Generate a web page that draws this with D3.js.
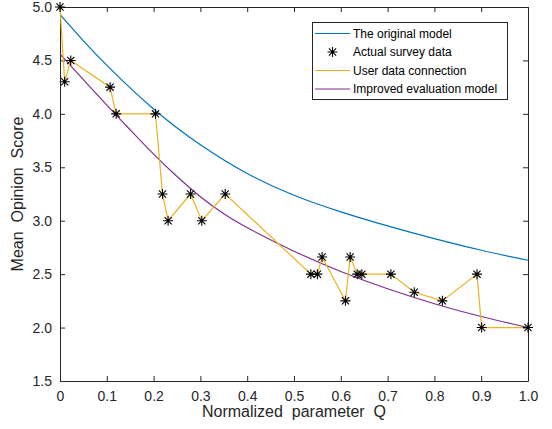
<!DOCTYPE html>
<html><head><meta charset="utf-8">
<script src="https://cdn.jsdelivr.net/npm/d3@7"></script>
<style>body{margin:0;background:#fff}svg{display:block}text{font-family:"Liberation Sans",Arial,sans-serif}</style>
</head><body>
<svg id="c" width="552" height="429"></svg>
<script>
// Survey data
const surveyQ = [0, 0.010, 0.023, 0.107, 0.120, 0.204, 0.219, 0.231, 0.279, 0.303, 0.353, 0.536, 0.550, 0.560, 0.610, 0.620, 0.635, 0.645, 0.707, 0.757, 0.817, 0.891, 0.901, 1.0];
const surveyMOS = [5.0, 4.3, 4.5, 4.25, 4.0, 4.0, 3.25, 3.0, 3.25, 3.0, 3.25, 2.5, 2.5, 2.66, 2.25, 2.66, 2.5, 2.5, 2.5, 2.33, 2.25, 2.5, 2.0, 2.0];
// Original model curve
const origQ = [0, 0.05, 0.1, 0.2, 0.3, 0.4, 0.5, 0.6, 0.7, 0.8, 0.9, 1.0];
const origMOS = [4.93, 4.68, 4.45, 4.03, 3.70, 3.43, 3.23, 3.08, 2.95, 2.83, 2.72, 2.63];
// Improved evaluation model curve
const impQ = [0, 0.05, 0.1, 0.15, 0.2, 0.25, 0.3, 0.35, 0.4, 0.5, 0.6, 0.7, 0.8, 0.9, 1.0];
const impMOS = [4.56, 4.32, 4.08, 3.85, 3.62, 3.41, 3.22, 3.06, 2.93, 2.71, 2.52, 2.36, 2.22, 2.10, 2.0];
// Ticks
const xTicks = [0, 0.1, 0.2, 0.3, 0.4, 0.5, 0.6, 0.7, 0.8, 0.9, 1.0];
const xTickLabels = ["0", "0.1", "0.2", "0.3", "0.4", "0.5", "0.6", "0.7", "0.8", "0.9", "1.0"];
const yTicks = [1.5, 2.0, 2.5, 3.0, 3.5, 4.0, 4.5, 5.0];
const yTickLabels = ["1.5", "2.0", "2.5", "3.0", "3.5", "4.0", "4.5", "5.0"];
const legendLabels = ["The original model", "Actual survey data", "User data connection", "Improved evaluation model"];

const C_BLUE = "#0072BD", C_ORANGE = "#EDB120", C_PURPLE = "#7E2F8E", C_AX = "#262626";
const L = 60, R = 528, T = 7, B = 381;
const svg = d3.select("#c");
const x = d3.scaleLinear().domain([0, 1]).range([L, R]);
const y = d3.scaleLinear().domain([1.5, 5.0]).range([B, T]);

const zip = (a, b) => a.map((v, i) => [v, b[i]]);
const line = d3.line().x(d => x(d[0])).y(d => y(d[1]));
const smooth = d3.line().x(d => x(d[0])).y(d => y(d[1])).curve(d3.curveBasis);

// axes with inward ticks
const tl = 5;
const axB = svg.append("g").attr("transform", `translate(0,${B})`)
  .call(d3.axisBottom(x).tickValues(xTicks).tickFormat((d, i) => xTickLabels[i]).tickSizeInner(-tl).tickSizeOuter(0).tickPadding(10));
const axT = svg.append("g").attr("transform", `translate(0,${T})`)
  .call(d3.axisTop(x).tickValues(xTicks).tickFormat("").tickSizeInner(-tl).tickSizeOuter(0));
const axL = svg.append("g").attr("transform", `translate(${L},0)`)
  .call(d3.axisLeft(y).tickValues(yTicks).tickFormat((d, i) => yTickLabels[i]).tickSizeInner(-tl).tickSizeOuter(0).tickPadding(8));
const axR = svg.append("g").attr("transform", `translate(${R},0)`)
  .call(d3.axisRight(y).tickValues(yTicks).tickFormat("").tickSizeInner(-tl).tickSizeOuter(0));
[axB, axT, axL, axR].forEach(g => {
  g.selectAll("path").attr("stroke", C_AX).attr("stroke-width", 1);
  g.selectAll("line").attr("stroke", C_AX);
  g.selectAll("text").attr("fill", C_AX).style("font-size", "14px").style("font-family", '"Liberation Sans",Arial,sans-serif');
});

// curves
svg.append("path").datum(zip(origQ, origMOS)).attr("d", smooth).attr("fill", "none").attr("stroke", C_BLUE).attr("stroke-width", 1.2);
svg.append("path").datum(zip(impQ, impMOS)).attr("d", smooth).attr("fill", "none").attr("stroke", C_PURPLE).attr("stroke-width", 1.2);
svg.append("path").datum(zip(surveyQ, surveyMOS)).attr("d", line).attr("fill", "none").attr("stroke", C_ORANGE).attr("stroke-width", 1.2);

function star(g, cx, cy) {
  const r = 5, d = 3.6;
  const p = `M${cx - r},${cy}L${cx + r},${cy}M${cx},${cy - r}L${cx},${cy + r}M${cx - d},${cy - d}L${cx + d},${cy + d}M${cx - d},${cy + d}L${cx + d},${cy - d}`;
  g.append("path").attr("d", p).attr("stroke", "#000").attr("stroke-width", 1.1).attr("fill", "none");
}
const sg = svg.append("g");
zip(surveyQ, surveyMOS).forEach(d => star(sg, x(d[0]), y(d[1])));

// labels
svg.append("text").attr("x", (L + R) / 2).attr("y", 417).attr("text-anchor", "middle")
  .style("font-size", "16px").style("white-space", "pre").attr("fill", C_AX).text("Normalized  parameter  Q");
svg.append("text").attr("transform", `translate(23,${(T + B) / 2}) rotate(-90)`).attr("text-anchor", "middle")
  .style("font-size", "16px").style("white-space", "pre").attr("fill", C_AX).text("Mean  Opinion  Score");

// legend
const lg = svg.append("g");
lg.append("rect").attr("x", 312.5).attr("y", 22.5).attr("width", 195).attr("height", 77).attr("fill", "#fff").attr("stroke", C_AX).attr("stroke-width", 1);
const rows = [33.5, 52, 70.5, 89];
const cols = [C_BLUE, null, C_ORANGE, C_PURPLE];
legendLabels.forEach((t, i) => {
  if (cols[i]) lg.append("line").attr("x1", 315).attr("x2", 350).attr("y1", rows[i]).attr("y2", rows[i]).attr("stroke", cols[i]).attr("stroke-width", 1.2);
  else star(lg, 332.5, rows[i]);
  lg.append("text").attr("x", 353).attr("y", rows[i]).attr("dy", "0.35em").style("font-size", "12px").attr("fill", "#000").text(t);
});
</script>
</body></html>
